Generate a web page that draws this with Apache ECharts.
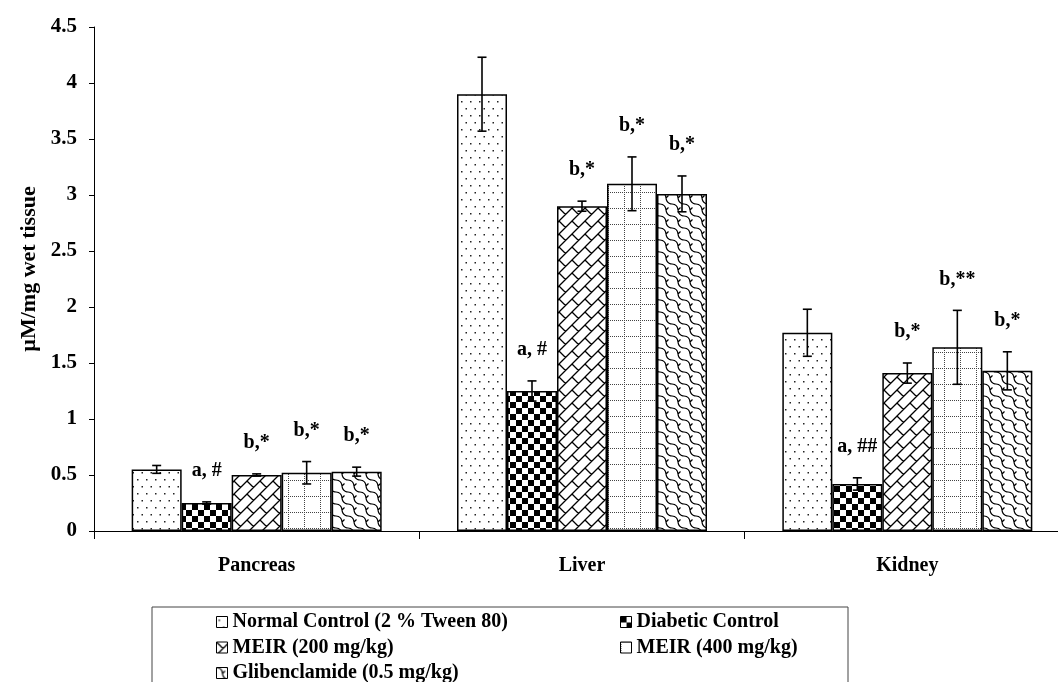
<!DOCTYPE html>
<html>
<head>
<meta charset="utf-8">
<script src="https://cdn.jsdelivr.net/npm/echarts@6/dist/echarts.min.js"></script>
<style>
  html, body { margin: 0; padding: 0; background: #fff; overflow: hidden; }
  /* the x axis runs slightly past the right edge of the window */
  #chart { width: 1078px; height: 682px; }
</style>
</head>
<body>
<div id="chart"></div>
<script>
// Tissue groups on the x axis
const tissues = ['Pancreas', 'Liver', 'Kidney'];

// Treatment groups (series names)
const groupNames = [
  'Normal Control (2 % Tween 80)',
  'Diabetic Control',
  'MEIR (200 mg/kg)',
  'MEIR (400 mg/kg)',
  'Glibenclamide (0.5 mg/kg)'
];

// Mean values (µM/mg wet tissue) per tissue
const normalMean     = [0.55, 3.90, 1.77];
const diabeticMean   = [0.25, 1.25, 0.42];
const meir200Mean    = [0.50, 2.90, 1.41];
const meir400Mean    = [0.52, 3.10, 1.64];
const glibMean       = [0.53, 3.01, 1.43];

// Error (± SEM) per tissue
const normalErr      = [0.035, 0.33, 0.21];
const diabeticErr    = [0.01, 0.09, 0.055];
const meir200Err     = [0.01, 0.045, 0.09];
const meir400Err     = [0.10, 0.24, 0.33];
const glibErr        = [0.04, 0.16, 0.17];

// Significance marks per tissue
const normalNote     = ['', '', ''];
const diabeticNote   = ['a, #', 'a, #', 'a, ##'];
const meir200Note    = ['b,*', 'b,*', 'b,*'];
const meir400Note    = ['b,*', 'b,*', 'b,**'];
const glibNote       = ['b,*', 'b,*', 'b,*'];

// Y axis scale
const yMin = 0, yMax = 4.5, yStep = 0.5;

const means = [normalMean, diabeticMean, meir200Mean, meir400Mean, glibMean];
const errs  = [normalErr, diabeticErr, meir200Err, meir400Err, glibErr];
const notes = [normalNote, diabeticNote, meir200Note, meir400Note, glibNote];

const FONT = '"Liberation Serif", "Times New Roman", serif';
const BAR_W = 50;

// ---- hatch fills ----
function tile(w, h, draw) {
  const c = document.createElement('canvas');
  c.width = w; c.height = h;
  const g = c.getContext('2d');
  g.fillStyle = '#fff';
  g.fillRect(0, 0, w, h);
  draw(g, w, h);
  return { image: c, repeat: 'repeat' };
}

// sparse dots
const dotFill = tile(9, 14, (g) => {
  g.fillStyle = '#222';
  g.fillRect(2, 3, 1.5, 1.5);
  g.fillRect(6.5, 10, 1.5, 1.5);
});

// checkerboard
const checkFill = tile(12, 12, (g) => {
  g.fillStyle = '#000';
  g.fillRect(0, 0, 6, 6);
  g.fillRect(6, 6, 6, 6);
});

// diagonal brick
const brickFill = tile(13, 13, (g, s) => {
  g.strokeStyle = '#000';
  g.lineWidth = 1.3;
  g.beginPath();
  g.moveTo(-2, s + 2); g.lineTo(s + 2, -2);
  g.moveTo(-2, 2); g.lineTo(2, -2);
  g.moveTo(s - 2, s + 2); g.lineTo(s + 2, s - 2);
  for (let i = -1; i <= 1; i++) {
    for (let j = -1; j <= 1; j++) {
      g.moveTo(i * s, j * s);
      g.lineTo(i * s + s / 2, j * s + s / 2);
    }
  }
  g.stroke();
});

// dotted grid
const gridFill = tile(16, 16, (g, s) => {
  g.fillStyle = '#444';
  for (let i = 0; i < s; i += 2) {
    g.fillRect(0, i, 1, 1);
    g.fillRect(i, 0, 1, 1);
  }
});

// wavy shingles
const waveFill = tile(12, 12, (g, s) => {
  g.strokeStyle = '#000';
  g.lineWidth = 1.2;
  g.beginPath();
  for (let i = -1; i <= 1; i++) {
    for (let j = -1; j <= 1; j++) {
      const ox = i * s, oy = j * s;
      g.moveTo(ox, oy);
      g.quadraticCurveTo(ox + 5.5, oy + 0.5, ox + 6, oy + 6);
      g.quadraticCurveTo(ox + 6.5, oy + 11.5, ox + 12, oy + 12);
      g.moveTo(ox + 6, oy + 6);
      g.lineTo(ox + 8.5, oy + 3.5);
    }
  }
  g.stroke();
});

const fills = [dotFill, checkFill, brickFill, gridFill, waveFill];

// ---- series ----
const barSeries = groupNames.map((name, s) => ({
  name,
  type: 'bar',
  barWidth: BAR_W,
  barGap: '0%',
  data: means[s],
  itemStyle: { color: fills[s], borderColor: '#000', borderWidth: 1.5 },
  z: 2
}));

const errData = [];
groupNames.forEach((name, s) => {
  tissues.forEach((t, c) => {
    errData.push([c, s, means[s][c], errs[s][c], notes[s][c]]);
  });
});

const errSeries = {
  type: 'custom',
  name: 'err',
  z: 5,
  silent: true,
  data: errData,
  encode: { x: 0, y: 2 },
  renderItem: (params, api) => {
    const c = api.value(0), s = api.value(1);
    const m = api.value(2), e = api.value(3);
    const note = errData[params.dataIndex][4];
    const base = api.coord([c, m]);
    const x = base[0] + (s - 2) * BAR_W;
    const top = api.coord([c, m + e])[1];
    const bot = api.coord([c, m - e])[1];
    const cap = 4.5;
    const st = { stroke: '#000', lineWidth: 1.6 };
    const children = [
      { type: 'line', shape: { x1: x, y1: top, x2: x, y2: bot }, style: st },
      { type: 'line', shape: { x1: x - cap, y1: top, x2: x + cap, y2: top }, style: st },
      { type: 'line', shape: { x1: x - cap, y1: bot, x2: x + cap, y2: bot }, style: st }
    ];
    if (note) {
      children.push({
        type: 'text',
        style: {
          text: note, x: x, y: top - 31,
          align: 'center', verticalAlign: 'middle',
          font: 'bold 20px ' + FONT, fill: '#000'
        }
      });
    }
    return { type: 'group', children };
  }
};

const chart = echarts.init(document.getElementById('chart'), null, { renderer: 'canvas' });

const legendText = { fontFamily: FONT, fontWeight: 'bold', fontSize: 20, color: '#000' };

// one legend entry per slot: two columns, three rows
const legendSlots = [[216, 612], [620, 612], [216, 637.5], [620, 637.5], [216, 663]];
const legends = groupNames.map((name, s) => ({
  data: [name],
  left: legendSlots[s][0], top: legendSlots[s][1],
  padding: 0,
  icon: 'rect',
  itemWidth: 11, itemHeight: 11,
  itemStyle: { borderColor: '#000', borderWidth: 1 },
  selectedMode: false,
  textStyle: legendText
}));

chart.setOption({
  animation: false,
  backgroundColor: '#fff',
  grid: { left: 94, top: 27, right: 8, bottom: 151, containLabel: false },
  xAxis: {
    type: 'category',
    data: tissues,
    axisLine: { lineStyle: { color: '#000', width: 1 } },
    axisTick: { show: true, length: 8, lineStyle: { color: '#000' } },
    axisLabel: { margin: 25, color: '#000', fontFamily: FONT, fontWeight: 'bold', fontSize: 20 }
  },
  yAxis: {
    type: 'value',
    min: yMin, max: yMax, interval: yStep,
    name: 'µM/mg wet tissue',
    nameLocation: 'middle',
    nameGap: 54,
    nameTextStyle: { color: '#000', fontFamily: FONT, fontWeight: 'bold', fontSize: 22, padding: [0, 0, 0, 20] },
    axisLine: { show: true, lineStyle: { color: '#000', width: 1 } },
    axisTick: { show: true, length: 5, lineStyle: { color: '#000' } },
    splitLine: { show: false },
    axisLabel: { margin: 17, color: '#000', fontFamily: FONT, fontWeight: 'bold', fontSize: 21 }
  },
  legend: legends,
  graphic: [
    {
      type: 'rect',
      shape: { x: 152, y: 607, width: 696, height: 120 },
      style: { fill: 'none', stroke: '#444', lineWidth: 1 },
      silent: true
    }
  ],
  series: [...barSeries, errSeries]
});
</script>
</body>
</html>
